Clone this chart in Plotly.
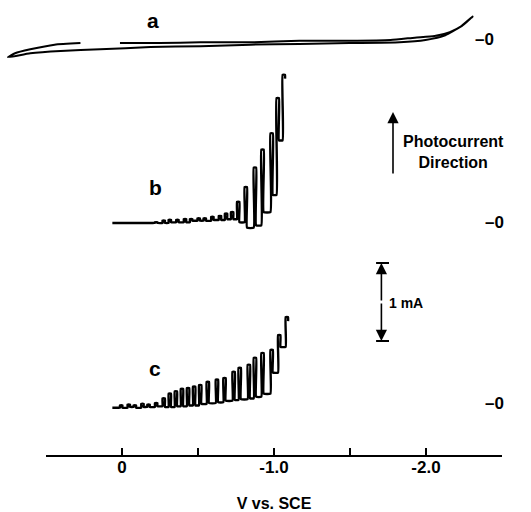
import plotly.graph_objects as go

# ---------------- data (V vs. SCE, current in mA relative to each trace's zero) ----------------
# trace a: dark/light loop (forward then reverse)
a_v = [0.28, 0.45, 0.61, 0.71, 0.757, 0.61, 0.41, 0.15, -0.18, -0.51, -0.84, -1.16, -1.49, -1.82,
       -1.99, -2.12, -2.22, -2.30, -2.23, -2.15, -2.05, -1.92, -1.76, -1.49, -1.16, -0.84, -0.51,
       -0.24, 0.02]
a_i = [-0.04, -0.06, -0.12, -0.17, -0.22, -0.17, -0.14, -0.12, -0.09, -0.08, -0.06, -0.05, -0.04,
       -0.03, 0.00, 0.06, 0.17, 0.30, 0.18, 0.10, 0.05, 0.03, 0.00, -0.01, -0.01, -0.03, -0.03,
       -0.04, -0.04]

# trace b: chopped-light scan
b_start_v = [0.07, -0.18]
b_start_i = [0.0, 0.0]
b_on_v = [-0.21, -0.26, -0.30, -0.35, -0.40, -0.44, -0.49, -0.53, -0.58, -0.63, -0.67, -0.71,
          -0.75, -0.80, -0.86, -0.91, -0.97, -1.01, -1.05]
b_light = [0.01, 0.03, 0.04, 0.04, 0.05, 0.05, 0.06, 0.06, 0.08, 0.09, 0.12, 0.14,
           0.27, 0.46, 0.71, 0.94, 1.15, 1.60, 1.90]
b_dark = [0.00, 0.00, 0.01, 0.01, 0.01, 0.03, 0.03, 0.03, 0.04, 0.04, 0.05, 0.05,
          0.01, -0.06, -0.03, 0.14, 0.36, 1.06, 1.85]

# trace c: chopped-light scan
c_start_v = [0.07, 0.04]
c_start_i = [-0.06, -0.06]
c_on_v = [0.02, -0.03, -0.07, -0.12, -0.16, -0.21, -0.26, -0.30, -0.34, -0.38, -0.42, -0.46,
          -0.50, -0.55, -0.61, -0.66, -0.72, -0.76, -0.82, -0.86, -0.91, -0.97, -1.02, -1.07]
c_light = [-0.03, -0.02, -0.03, -0.01, -0.02, 0.00, 0.06, 0.12, 0.15, 0.18, 0.19, 0.21,
           0.23, 0.27, 0.30, 0.32, 0.40, 0.45, 0.49, 0.58, 0.64, 0.68, 0.87, 1.10]
c_dark = [-0.06, -0.05, -0.06, -0.05, -0.05, -0.04, -0.05, -0.05, -0.04, -0.04, -0.03, -0.03,
          -0.01, 0.00, 0.01, 0.03, 0.04, 0.05, 0.06, 0.08, 0.12, 0.39, 0.72, 1.05]

# vertical offsets of each trace's zero (mA)
offsets = {"a": 4.654, "b": 2.308, "c": 0.0}

tick_vals = [0.5, 0.0, -0.5, -1.0, -1.5, -2.0, -2.5]
tick_text = ["", "0", "", "-1.0", "", "-2.0", ""]

scale_bar_x = -1.70
scale_bar_bottom = 0.795
scale_bar_mA = 1.0

HOLD = 0.016
FONT = "Liberation Sans, Arial, Helvetica, sans-serif"


def chop_path(sv, si, on_v, light, dark, off):
    xs = list(sv)
    ys = [v + off for v in si]
    prev = si[-1]
    for v, li, di in zip(on_v, light, dark):
        xs += [v, v, v - HOLD, v - HOLD]
        ys += [prev + off, li + off, li + off, di + off]
        prev = di
    return xs, ys


fig = go.Figure()
line = dict(color="black", width=2.4, shape="spline", smoothing=0.35)

fig.add_trace(go.Scatter(x=a_v, y=[v + offsets["a"] for v in a_i], mode="lines",
                         line=dict(color="black", width=2, shape="spline", smoothing=0.5),
                         hoverinfo="skip", showlegend=False))
bx, by = chop_path(b_start_v, b_start_i, b_on_v, b_light, b_dark, offsets["b"])
fig.add_trace(go.Scatter(x=bx, y=by, mode="lines", line=line, hoverinfo="skip", showlegend=False))
cx, cy = chop_path(c_start_v, c_start_i, c_on_v, c_light, c_dark, offsets["c"])
fig.add_trace(go.Scatter(x=cx, y=cy, mode="lines", line=line, hoverinfo="skip", showlegend=False))

# invisible trace to carry the visible potential axis
fig.add_trace(go.Scatter(x=[0.5, -2.5], y=[0, 0], xaxis="x2", yaxis="y2", mode="lines",
                         line=dict(width=0), hoverinfo="skip", showlegend=False))

W, H = 531, 512
fig.update_layout(
    width=W, height=H, margin=dict(l=0, r=0, t=0, b=0),
    paper_bgcolor="white", plot_bgcolor="rgba(0,0,0,0)",
    font=dict(family=FONT, color="black"),
    xaxis=dict(domain=[0, 1], range=[123 / 152, (123 - W) / 152], visible=False, fixedrange=True),
    yaxis=dict(domain=[0, 1], range=[(403 - H) / 78, 403 / 78], visible=False, fixedrange=True),
    xaxis2=dict(domain=[46 / W, 502 / W], range=[0.5, -2.5], anchor="y2",
                showline=True, linecolor="black", linewidth=2, zeroline=False, showgrid=False,
                ticks="inside", ticklen=7, tickwidth=2, tickcolor="black",
                tickvals=tick_vals, ticktext=tick_text,
                tickfont=dict(family=FONT, size=17, weight="bold", color="black"),
                ticklabelstandoff=-4,
                title=dict(text="V vs. SCE", font=dict(family=FONT, size=16, weight="bold"),
                           standoff=33),
                automargin=False),
    yaxis2=dict(domain=[1 - 455 / H, 0.3], visible=False, range=[0, 1]),
)

ann = []
for lab, (v, y) in {"a": (-0.197, 4.91), "b": (-0.217, 2.769), "c": (-0.211, 0.44)}.items():
    ann.append(dict(x=v, y=y, xref="x", yref="y", text=lab, showarrow=False,
                    xanchor="center", yanchor="middle",
                    font=dict(family=FONT, size=21, weight="bold")))
for v, y in [(-2.303, offsets["a"]), (-2.368, offsets["b"]), (-2.368, offsets["c"])]:
    ann.append(dict(x=v, y=y, xref="x", yref="y", text="\u20130", showarrow=False,
                    xanchor="left", yanchor="middle",
                    font=dict(family=FONT, size=17, weight="bold")))
ann.append(dict(x=453 / W, y=1 - 152 / H, xref="paper", yref="paper",
                text="Photocurrent<br>Direction", showarrow=False, align="center",
                xanchor="center", yanchor="middle",
                font=dict(family=FONT, size=16, weight="bold")))
# photocurrent direction arrow
ann.append(dict(x=393 / W, y=1 - 112 / H, xref="paper", yref="paper", ax=0, ay=63,
                text="", showarrow=True, arrowhead=2, arrowsize=1.4, arrowwidth=1.6,
                arrowcolor="black"))
# 1 mA scale bar
mid = scale_bar_bottom + scale_bar_mA / 2
for tip in (scale_bar_bottom + scale_bar_mA, scale_bar_bottom):
    ann.append(dict(x=scale_bar_x, y=tip, xref="x", yref="y", ax=scale_bar_x, ay=mid,
                    axref="x", ayref="y", text="", showarrow=True, arrowhead=2,
                    arrowsize=1.4, arrowwidth=1.6, arrowcolor="black"))
ann.append(dict(x=-1.862, y=mid - 0.01, xref="x", yref="y", text="1 mA", showarrow=False,
                xanchor="center", yanchor="middle",
                font=dict(family=FONT, size=14, weight="bold")))
fig.update_layout(annotations=ann)

shapes = []
for yb in (scale_bar_bottom, scale_bar_bottom + scale_bar_mA):
    shapes.append(dict(type="line", xref="x", yref="y", x0=scale_bar_x + 0.035,
                       x1=scale_bar_x - 0.05, y0=yb, y1=yb, line=dict(color="black", width=2)))
fig.update_layout(shapes=shapes)

fig.write_html("out.html")
